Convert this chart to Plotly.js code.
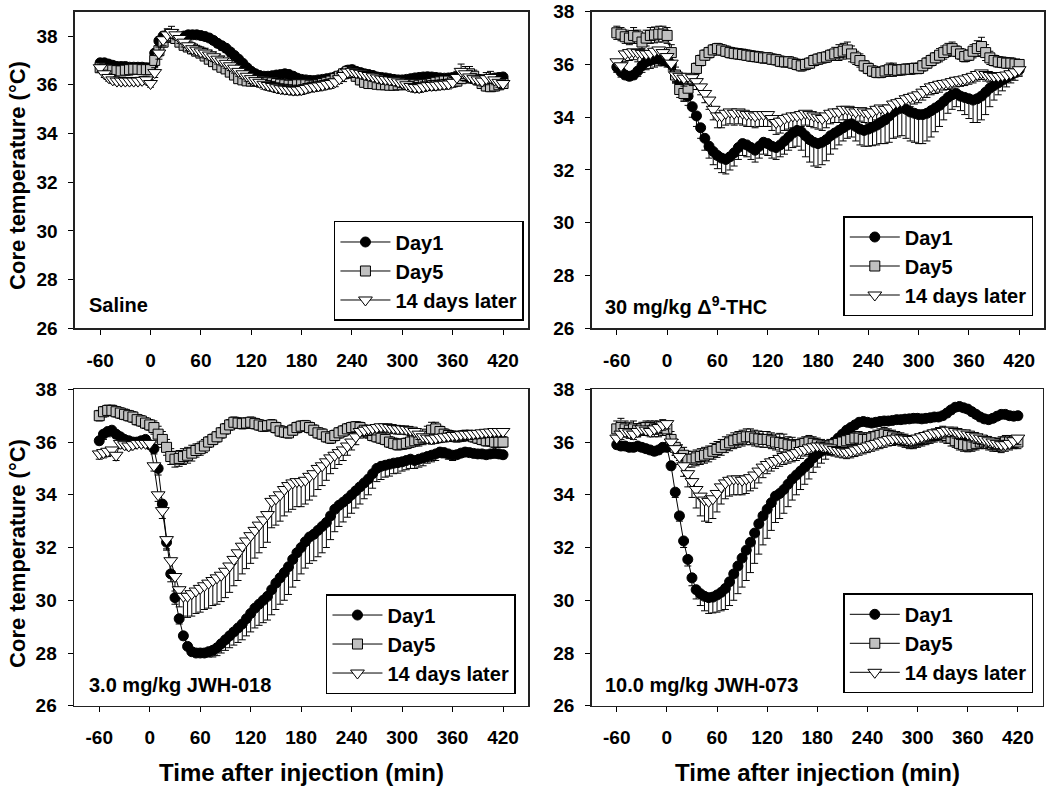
<!DOCTYPE html>
<html><head><meta charset="utf-8">
<script src="https://cdn.plot.ly/plotly-3.0.1.min.js"></script>
<style>html,body{margin:0;padding:0;background:#fff}#chart{width:1050px;height:791px}</style>
</head><body><div id="chart"></div>
<script>
const TIME = [-60,-55,-50,-45,-40,-35,-30,-25,-20,-15,-10,-5,0,
 5,10,15,20,25,30,35,40,45,50,55,60,
 65,70,75,80,85,90,95,100,105,110,115,120,
 125,130,135,140,145,150,155,160,165,170,175,180,
 185,190,195,200,205,210,215,220,225,230,235,240,
 245,250,255,260,265,270,275,280,285,290,295,300,
 305,310,315,320,325,330,335,340,345,350,355,360,
 365,370,375,380,385,390,395,400,405,410,415,420];

const X_TICK_VALUES = [-60,0,60,120,180,240,300,360,420];
const X_TICK_LABELS = ['-60','0','60','120','180','240','300','360','420'];
const Y_TICK_VALUES = [26,28,30,32,34,36,38];
const SERIES_NAMES = ['Day1','Day5','14 days later'];
const PANEL_LABELS = ['Saline','30 mg/kg \u0394<sup>9</sup>-THC','3.0 mg/kg JWH-018','10.0 mg/kg JWH-073'];
const X_TITLE = 'Time after injection (min)';
const Y_TITLE = 'Core temperature (\u00B0C)';

// ---------- Saline ----------
const SAL_D1 = [36.9,36.9,36.85,36.8,36.75,36.75,36.75,36.72,36.72,36.72,36.72,36.7,36.7,
 37.3,37.8,38.0,38.05,38.0,37.95,37.95,38.0,38.05,38.05,38.05,38.02,
 37.98,37.92,37.82,37.7,37.6,37.5,37.35,37.2,37.05,36.88,36.7,36.55,
 36.45,36.38,36.35,36.35,36.37,36.4,36.42,36.45,36.42,36.35,36.27,36.22,
 36.2,36.18,36.17,36.2,36.22,36.25,36.28,36.33,36.38,36.5,36.6,36.62,
 36.55,36.5,36.45,36.42,36.38,36.32,36.3,36.28,36.25,36.22,36.2,36.2,
 36.22,36.25,36.28,36.3,36.32,36.33,36.32,36.3,36.28,36.27,36.28,36.3,
 36.32,36.33,36.3,36.28,36.25,36.22,36.2,36.22,36.25,36.28,36.3,36.32];
const SAL_D1_E = [0.12,0.12,0.1,0.1,0.12,0.1,0.1,0.12,0.1,0.1,0.12,0.1,0.1,
 0.2,0.2,0.15,0.15,0.12,0.12,0.12,0.12,0.12,0.12,0.12,0.12,
 0.15,0.15,0.15,0.15,0.18,0.18,0.2,0.2,0.2,0.2,0.2,0.18,
 0.18,0.15,0.15,0.15,0.15,0.12,0.12,0.12,0.12,0.12,0.12,0.12,
 0.12,0.12,0.12,0.12,0.12,0.15,0.15,0.15,0.15,0.15,0.15,0.12,
 0.12,0.12,0.12,0.12,0.12,0.12,0.12,0.12,0.12,0.12,0.12,0.12,
 0.12,0.12,0.12,0.12,0.12,0.12,0.12,0.12,0.12,0.12,0.12,0.12,
 0.12,0.12,0.12,0.12,0.12,0.12,0.12,0.12,0.12,0.12,0.12,0.12];
const SAL_D5 = [36.7,36.65,36.62,36.6,36.58,36.57,36.6,36.62,36.64,36.64,36.62,36.62,36.62,
 37.0,37.4,37.75,37.95,38.0,37.9,37.75,37.62,37.55,37.47,37.38,37.3,
 37.18,37.05,36.95,36.82,36.72,36.65,36.52,36.4,36.25,36.2,36.16,36.15,
 36.15,36.15,36.12,36.1,36.08,36.05,36.02,36.0,35.98,35.98,36.0,36.0,
 36.0,35.98,35.98,36.0,36.05,36.1,36.15,36.25,36.35,36.45,36.55,36.5,
 36.35,36.2,36.1,36.05,36.05,36.02,36.0,36.0,35.98,35.98,36.0,36.0,
 36.02,36.02,36.0,35.98,36.0,36.02,36.05,36.1,36.12,36.15,36.15,36.12,
 36.15,36.25,36.38,36.45,36.35,36.2,36.05,35.95,35.92,35.95,36.0,36.05];
const SAL_D5_E = [0.2,0.2,0.18,0.2,0.2,0.18,0.2,0.22,0.2,0.2,0.2,0.2,0.2,
 0.25,0.25,0.2,0.2,0.15,0.15,0.15,0.15,0.15,0.15,0.15,0.15,
 0.15,0.15,0.15,0.15,0.15,0.15,0.15,0.15,0.15,0.15,0.15,0.15,
 0.15,0.15,0.15,0.15,0.15,0.15,0.15,0.15,0.15,0.15,0.15,0.15,
 0.15,0.15,0.15,0.15,0.15,0.15,0.15,0.15,0.2,0.2,0.2,0.2,
 0.2,0.2,0.15,0.15,0.15,0.15,0.15,0.15,0.15,0.15,0.15,0.15,
 0.15,0.15,0.15,0.15,0.15,0.15,0.15,0.15,0.15,0.15,0.15,0.15,
 0.2,0.2,0.25,0.3,0.25,0.2,0.2,0.2,0.2,0.2,0.2,0.2];
const SAL_14 = [36.7,36.45,36.3,36.2,36.15,36.15,36.15,36.15,36.15,36.15,36.18,36.2,36.05,
 36.5,37.3,37.85,38.05,38.15,38.05,37.9,37.75,37.6,37.48,37.42,37.35,
 37.3,37.22,37.15,37.05,36.98,36.88,36.78,36.68,36.55,36.45,36.35,36.25,
 36.17,36.1,36.02,35.97,35.93,35.88,35.84,35.82,35.8,35.78,35.78,35.8,
 35.85,35.9,35.92,35.95,35.98,36.02,36.05,36.12,36.25,36.38,36.52,36.55,
 36.5,36.47,36.42,36.38,36.33,36.28,36.24,36.22,36.2,36.17,36.12,36.08,
 36.0,35.93,35.89,35.88,35.92,35.96,35.97,35.98,36.0,36.02,36.03,36.1,
 36.3,36.55,36.45,36.32,36.25,36.2,36.15,36.25,36.3,36.2,36.1,36.05];
const SAL_14_E = [0.15,0.15,0.15,0.15,0.15,0.15,0.15,0.15,0.15,0.15,0.15,0.15,0.15,
 0.2,0.25,0.25,0.25,0.25,0.2,0.2,0.2,0.2,0.2,0.2,0.2,
 0.2,0.2,0.2,0.2,0.2,0.2,0.2,0.2,0.2,0.2,0.2,0.2,
 0.2,0.2,0.2,0.2,0.2,0.2,0.2,0.2,0.2,0.2,0.2,0.2,
 0.2,0.2,0.2,0.2,0.2,0.2,0.2,0.2,0.2,0.25,0.25,0.25,
 0.2,0.2,0.2,0.2,0.2,0.2,0.2,0.2,0.2,0.2,0.2,0.2,
 0.2,0.2,0.2,0.2,0.2,0.2,0.2,0.2,0.2,0.2,0.2,0.2,
 0.25,0.3,0.3,0.25,0.2,0.2,0.2,0.25,0.25,0.2,0.2,0.2];

// ---------- 30 mg/kg THC ----------
const THC_D1 = [35.9,35.72,35.6,35.55,35.6,35.75,35.95,36.1,36.15,36.2,36.2,36.15,36.1,
 36.0,35.6,35.3,35.0,34.8,34.4,34.05,33.6,33.2,32.9,32.7,32.55,
 32.45,32.4,32.5,32.65,32.85,33.0,32.95,32.85,32.75,32.9,33.05,33.0,
 32.9,32.85,32.95,33.1,33.25,33.4,33.5,33.45,33.3,33.15,33.05,33.0,
 33.05,33.15,33.3,33.4,33.5,33.6,33.7,33.75,33.65,33.55,33.5,33.55,
 33.62,33.7,33.8,33.9,34.05,34.2,34.3,34.35,34.3,34.2,34.15,34.1,
 34.1,34.15,34.25,34.35,34.45,34.6,34.75,34.85,34.9,34.8,34.75,34.7,
 34.65,34.7,34.8,34.95,35.1,35.2,35.3,35.4,35.5,35.6,35.7,35.8];
const THC_D1_E = [0.2,0.2,0.15,0.15,0.15,0.2,0.25,0.3,0.3,0.3,0.25,0.2,0.2,
 0.2,0.25,0.3,0.35,0.35,0.4,0.4,0.4,0.45,0.45,0.5,0.5,
 0.55,0.55,0.5,0.5,0.45,0.45,0.45,0.45,0.45,0.45,0.45,0.45,
 0.45,0.45,0.45,0.5,0.5,0.55,0.6,0.7,0.8,0.85,0.9,0.9,
 0.85,0.8,0.7,0.6,0.55,0.5,0.5,0.5,0.55,0.6,0.6,0.65,
 0.7,0.75,0.8,0.9,1.0,1.0,1.05,1.05,1.1,1.1,1.1,1.1,
 1.1,1.05,1.0,0.9,0.8,0.7,0.6,0.55,0.5,0.55,0.65,0.75,
 0.85,0.9,0.9,0.85,0.7,0.55,0.45,0.4,0.35,0.3,0.3,0.25];
const THC_D5 = [37.2,37.15,37.05,37.0,37.1,37.05,36.85,37.0,37.1,37.12,37.15,37.15,37.1,
 36.45,35.6,35.05,34.9,35.1,35.45,35.85,36.15,36.35,36.45,36.55,36.6,
 36.55,36.5,36.45,36.42,36.4,36.38,36.35,36.32,36.3,36.28,36.25,36.25,
 36.2,36.18,36.12,36.1,36.1,36.05,36.0,35.95,36.0,36.05,36.15,36.2,
 36.25,36.28,36.35,36.4,36.45,36.5,36.55,36.4,36.25,36.15,35.95,35.85,
 35.75,35.7,35.7,35.75,35.8,35.8,35.78,35.8,35.82,35.82,35.85,35.85,
 35.95,36.05,36.15,36.25,36.35,36.45,36.55,36.6,36.5,36.4,36.3,36.35,
 36.5,36.6,36.68,36.45,36.25,36.15,36.1,36.08,36.05,36.05,36.02,36.0];
const THC_D5_E = [0.25,0.25,0.25,0.25,0.3,0.25,0.25,0.3,0.3,0.3,0.3,0.3,0.3,
 0.3,0.3,0.3,0.3,0.25,0.2,0.2,0.2,0.2,0.2,0.2,0.2,
 0.2,0.2,0.2,0.2,0.2,0.2,0.2,0.2,0.2,0.2,0.2,0.2,
 0.2,0.2,0.2,0.2,0.2,0.2,0.2,0.2,0.2,0.2,0.2,0.2,
 0.2,0.2,0.2,0.25,0.3,0.3,0.3,0.3,0.25,0.25,0.2,0.2,
 0.2,0.2,0.2,0.2,0.25,0.25,0.2,0.2,0.2,0.2,0.2,0.2,
 0.2,0.2,0.2,0.2,0.25,0.25,0.25,0.25,0.2,0.2,0.2,0.2,
 0.25,0.3,0.35,0.3,0.25,0.2,0.2,0.2,0.2,0.2,0.15,0.15];
const THC_14 = [36.1,35.95,36.4,36.45,36.48,36.45,36.42,36.4,36.42,36.5,36.55,36.45,36.3,
 36.05,35.6,35.55,35.48,35.55,35.5,35.35,35.15,34.9,34.65,34.3,34.05,
 34.05,34.15,34.2,34.15,34.2,34.15,34.1,34.1,34.05,34.1,34.1,34.1,
 33.95,33.8,33.85,33.95,34.0,34.05,34.05,34.1,34.15,34.1,34.05,34.0,
 33.95,34.05,34.15,34.2,34.2,34.3,34.3,34.25,34.2,34.25,34.2,34.15,
 34.2,34.3,34.35,34.3,34.35,34.5,34.55,34.6,34.7,34.75,34.8,34.85,
 34.95,35.05,35.15,35.2,35.25,35.28,35.3,35.35,35.4,35.42,35.45,35.5,
 35.55,35.62,35.68,35.62,35.58,35.55,35.55,35.58,35.6,35.65,35.72,35.8];
const THC_14_E = [0.35,0.3,0.3,0.3,0.3,0.35,0.35,0.35,0.3,0.3,0.3,0.3,0.3,
 0.3,0.3,0.3,0.3,0.3,0.3,0.3,0.3,0.35,0.35,0.4,0.45,
 0.45,0.45,0.45,0.45,0.45,0.45,0.45,0.45,0.45,0.45,0.45,0.45,
 0.45,0.45,0.45,0.45,0.45,0.45,0.45,0.45,0.45,0.45,0.45,0.45,
 0.45,0.45,0.4,0.4,0.4,0.4,0.4,0.4,0.4,0.4,0.4,0.4,
 0.4,0.4,0.4,0.4,0.4,0.4,0.35,0.35,0.35,0.35,0.3,0.3,
 0.3,0.3,0.3,0.3,0.3,0.25,0.25,0.25,0.25,0.25,0.25,0.25,
 0.25,0.25,0.25,0.25,0.25,0.2,0.2,0.2,0.2,0.2,0.2,0.2];

// ---------- 3.0 mg/kg JWH-018 ----------
const J18_D1 = [36.05,36.3,36.4,36.45,36.3,36.2,36.1,36.05,36.0,36.0,36.05,36.1,35.9,
 35.75,35.0,33.65,32.2,31.0,30.1,29.3,28.65,28.25,28.05,28.0,28.0,
 28.0,28.05,28.1,28.2,28.35,28.5,28.65,28.8,28.95,29.1,29.3,29.5,
 29.7,29.85,30.0,30.15,30.4,30.65,30.85,31.05,31.27,31.55,31.8,32.0,
 32.22,32.4,32.5,32.65,32.8,32.95,33.2,33.45,33.6,33.72,33.85,34.0,
 34.15,34.3,34.45,34.6,34.8,35.0,35.08,35.12,35.16,35.2,35.22,35.25,
 35.3,35.35,35.3,35.35,35.4,35.45,35.5,35.55,35.62,35.6,35.55,35.5,
 35.52,35.58,35.62,35.6,35.57,35.55,35.55,35.52,35.55,35.57,35.55,35.52];
const J18_D1_E = [0.15,0.2,0.2,0.2,0.15,0.15,0.15,0.15,0.15,0.15,0.15,0.15,0.15,
 0.2,0.25,0.3,0.3,0.3,0.25,0.2,0.15,0.1,0.1,0.1,0.1,
 0.15,0.2,0.25,0.3,0.35,0.4,0.45,0.5,0.55,0.6,0.65,0.7,
 0.75,0.8,0.85,0.9,0.95,1.0,1.0,1.05,1.05,1.05,1.05,1.0,
 1.0,1.0,1.0,1.0,1.0,0.95,0.9,0.85,0.8,0.75,0.7,0.7,
 0.65,0.65,0.6,0.6,0.55,0.5,0.5,0.45,0.45,0.4,0.4,0.35,
 0.35,0.35,0.3,0.3,0.3,0.25,0.25,0.25,0.2,0.2,0.2,0.2,
 0.15,0.15,0.15,0.15,0.15,0.15,0.15,0.15,0.15,0.15,0.15,0.15];
const J18_D5 = [37.0,37.15,37.2,37.2,37.15,37.1,37.05,37.0,36.95,36.85,36.8,36.72,36.65,
 36.55,36.3,36.1,35.8,35.45,35.35,35.38,35.45,35.5,35.58,35.68,35.75,
 35.85,36.0,36.1,36.2,36.35,36.5,36.65,36.75,36.72,36.7,36.72,36.75,
 36.7,36.65,36.6,36.62,36.65,36.55,36.42,36.38,36.35,36.45,36.55,36.6,
 36.62,36.55,36.45,36.35,36.3,36.2,36.15,36.25,36.35,36.42,36.5,36.55,
 36.58,36.55,36.45,36.35,36.25,36.2,36.15,36.1,36.0,35.95,35.9,35.92,
 35.95,36.0,36.05,36.1,36.15,36.3,36.45,36.5,36.4,36.3,36.25,36.22,
 36.2,36.22,36.25,36.25,36.2,36.15,36.1,36.05,36.05,36.0,36.0,36.0];
const J18_D5_E = [0.2,0.2,0.2,0.2,0.2,0.2,0.2,0.2,0.2,0.2,0.2,0.2,0.2,
 0.25,0.3,0.3,0.3,0.3,0.3,0.3,0.3,0.3,0.3,0.25,0.25,
 0.25,0.2,0.2,0.2,0.2,0.2,0.2,0.2,0.2,0.2,0.2,0.2,
 0.2,0.2,0.2,0.2,0.2,0.2,0.2,0.2,0.2,0.2,0.2,0.2,
 0.2,0.2,0.2,0.2,0.2,0.2,0.2,0.2,0.2,0.2,0.2,0.2,
 0.2,0.2,0.2,0.2,0.2,0.2,0.2,0.2,0.2,0.2,0.2,0.2,
 0.2,0.2,0.2,0.25,0.25,0.3,0.3,0.25,0.2,0.2,0.2,0.2,
 0.2,0.2,0.2,0.2,0.2,0.2,0.2,0.2,0.2,0.2,0.2,0.2];
const J18_14 = [35.55,35.6,35.65,35.7,35.5,35.95,35.9,35.85,35.9,35.95,35.95,35.95,35.95,
 35.1,34.0,33.4,32.3,31.5,30.9,30.4,30.15,30.15,30.25,30.35,30.45,
 30.55,30.65,30.75,30.85,30.95,31.1,31.3,31.55,31.8,32.05,32.25,32.45,
 32.65,32.85,33.05,33.25,33.75,33.85,34.0,34.2,34.35,34.45,34.5,34.5,
 34.55,34.7,34.8,35.0,35.1,35.25,35.4,35.5,35.6,35.7,35.85,36.0,
 36.2,36.4,36.45,36.5,36.52,36.55,36.58,36.58,36.55,36.52,36.5,36.5,
 36.48,36.45,36.4,36.3,36.2,36.15,36.12,36.15,36.18,36.2,36.22,36.25,
 36.25,36.28,36.3,36.3,36.32,36.33,36.35,36.37,36.38,36.4,36.4,36.4];
const J18_14_E = [0.2,0.2,0.2,0.2,0.2,0.15,0.15,0.15,0.15,0.15,0.15,0.15,0.15,
 0.2,0.25,0.3,0.35,0.45,0.55,0.65,0.75,0.8,0.85,0.85,0.9,
 0.9,0.95,0.95,1.0,1.0,1.0,1.0,1.0,1.05,1.05,1.05,1.05,
 1.05,1.05,1.05,1.05,1.0,1.0,1.0,1.0,1.0,1.0,0.95,0.95,
 0.9,0.9,0.85,0.8,0.75,0.7,0.6,0.5,0.45,0.4,0.35,0.3,
 0.3,0.25,0.25,0.25,0.25,0.2,0.2,0.2,0.2,0.2,0.2,0.2,
 0.2,0.2,0.2,0.2,0.2,0.2,0.2,0.2,0.2,0.2,0.2,0.2,
 0.2,0.2,0.2,0.2,0.2,0.2,0.2,0.2,0.2,0.2,0.2,0.2];

// ---------- 10.0 mg/kg JWH-073 ----------
const J73_D1 = [35.9,35.85,35.85,35.8,35.8,35.85,35.8,35.75,35.7,35.65,35.7,35.8,35.8,
 35.1,34.1,33.2,32.25,31.55,30.85,30.4,30.25,30.15,30.1,30.12,30.2,
 30.3,30.45,30.7,31.0,31.3,31.6,31.9,32.2,32.55,32.9,33.2,33.45,
 33.7,33.95,34.05,34.2,34.4,34.6,34.75,34.9,35.05,35.2,35.4,35.55,
 35.65,35.75,35.85,36.0,36.15,36.3,36.45,36.55,36.65,36.75,36.78,36.75,
 36.72,36.75,36.78,36.8,36.8,36.82,36.85,36.85,36.87,36.88,36.9,36.9,
 36.88,36.9,36.92,36.95,36.95,37.0,37.1,37.22,37.32,37.35,37.3,37.25,
 37.15,37.05,36.95,36.88,36.85,36.9,36.98,37.05,37.05,37.0,36.98,37.0];
const J73_D1_E = [0.15,0.15,0.15,0.15,0.15,0.15,0.15,0.15,0.15,0.15,0.15,0.15,0.15,
 0.15,0.2,0.2,0.25,0.25,0.3,0.35,0.45,0.55,0.6,0.6,0.65,
 0.7,0.8,0.9,1.0,1.05,1.1,1.15,1.15,1.15,1.15,1.1,1.1,
 1.05,1.0,0.95,0.9,0.85,0.8,0.75,0.7,0.65,0.6,0.55,0.5,
 0.45,0.4,0.35,0.3,0.25,0.2,0.2,0.15,0.15,0.15,0.15,0.15,
 0.15,0.15,0.15,0.15,0.15,0.15,0.15,0.15,0.15,0.15,0.15,0.15,
 0.15,0.15,0.15,0.15,0.15,0.15,0.15,0.15,0.15,0.15,0.15,0.15,
 0.15,0.15,0.15,0.15,0.15,0.15,0.15,0.15,0.15,0.15,0.15,0.15];
const J73_D5 = [36.5,36.55,36.5,36.45,36.5,36.45,36.5,36.55,36.55,36.5,36.5,36.55,36.5,
 36.1,35.8,35.6,35.5,35.35,35.35,35.4,35.45,35.5,35.55,35.65,35.72,
 35.8,35.9,35.97,36.05,36.1,36.15,36.2,36.2,36.15,36.12,36.1,36.1,
 36.05,36.0,35.98,35.95,35.9,35.88,35.85,35.9,35.95,36.0,35.95,35.9,
 35.85,35.8,35.85,35.9,35.95,36.0,36.05,36.1,36.15,36.15,36.1,36.1,
 36.15,36.2,36.25,36.3,36.25,36.2,36.15,36.1,36.05,36.0,36.0,36.05,
 36.1,36.15,36.2,36.25,36.3,36.3,36.25,36.15,36.05,35.95,35.9,35.88,
 35.9,35.95,36.0,36.0,35.95,35.9,35.9,35.95,36.0,36.0,36.0,36.0];
const J73_D5_E = [0.3,0.35,0.3,0.3,0.3,0.25,0.25,0.25,0.25,0.3,0.3,0.3,0.25,
 0.3,0.3,0.3,0.3,0.3,0.3,0.3,0.3,0.3,0.3,0.3,0.3,
 0.3,0.3,0.3,0.3,0.3,0.3,0.3,0.3,0.3,0.3,0.3,0.3,
 0.3,0.3,0.35,0.35,0.3,0.3,0.25,0.25,0.25,0.25,0.25,0.25,
 0.25,0.25,0.25,0.25,0.25,0.25,0.25,0.25,0.25,0.25,0.25,0.25,
 0.25,0.25,0.25,0.25,0.25,0.25,0.25,0.25,0.25,0.25,0.25,0.25,
 0.25,0.25,0.25,0.25,0.25,0.3,0.3,0.3,0.25,0.25,0.25,0.25,
 0.25,0.25,0.25,0.25,0.25,0.25,0.25,0.25,0.25,0.25,0.25,0.25];
const J73_14 = [36.15,36.3,36.4,36.35,36.3,36.4,36.5,36.45,36.4,36.5,36.55,36.65,36.7,
 36.0,35.75,35.45,35.1,34.8,34.5,34.2,33.95,33.8,33.75,33.85,34.05,
 34.3,34.45,34.55,34.6,34.6,34.55,34.6,34.65,34.75,34.9,35.05,35.15,
 35.25,35.3,35.38,35.45,35.5,35.55,35.6,35.68,35.72,35.78,35.82,35.85,
 35.85,35.82,35.78,35.72,35.68,35.65,35.62,35.65,35.7,35.75,35.8,35.85,
 35.9,35.95,36.0,36.05,36.1,36.12,36.15,36.15,36.12,36.1,36.1,36.15,
 36.2,36.25,36.3,36.35,36.35,36.4,36.45,36.45,36.4,36.35,36.35,36.3,
 36.25,36.2,36.15,36.1,36.05,36.0,35.95,35.9,35.9,35.95,36.05,36.15];
const J73_14_E = [0.2,0.2,0.2,0.2,0.2,0.2,0.2,0.2,0.2,0.2,0.2,0.2,0.2,
 0.2,0.25,0.3,0.4,0.5,0.6,0.7,0.75,0.8,0.8,0.75,0.7,
 0.65,0.6,0.6,0.6,0.6,0.55,0.55,0.5,0.5,0.45,0.4,0.35,
 0.35,0.3,0.3,0.3,0.3,0.3,0.3,0.3,0.25,0.25,0.25,0.25,
 0.25,0.25,0.25,0.25,0.25,0.25,0.25,0.25,0.25,0.25,0.25,0.25,
 0.25,0.25,0.25,0.25,0.25,0.25,0.25,0.25,0.25,0.25,0.25,0.25,
 0.25,0.25,0.25,0.25,0.25,0.25,0.25,0.25,0.25,0.25,0.25,0.25,
 0.25,0.25,0.25,0.25,0.25,0.25,0.3,0.3,0.25,0.25,0.25,0.25];

// ---------- assembly ----------
const FONT = 'Liberation Sans, Arial, Helvetica, sans-serif';
const PANELS = [
  {means:[SAL_D1,SAL_D5,SAL_14], errs:[SAL_D1_E,SAL_D5_E,SAL_14_E], dirs:['down','both','both'],
   xd:[0.0714,0.5031], yd:[0.5850,0.9852], yr:[26,39], leg:[0.4990,0.5942], lab:[0.0826,0.6144]},
  {means:[THC_D1,THC_D5,THC_14], errs:[THC_D1_E,THC_D5_E,THC_14_E], dirs:['down','both','down'],
   xd:[0.5635,0.9946], yd:[0.5850,0.9852], yr:[26,38], leg:[0.9841,0.6005], lab:[0.5743,0.6144]},
  {means:[J18_D1,J18_D5,J18_14], errs:[J18_D1_E,J18_D5_E,J18_14_E], dirs:['down','both','down'],
   xd:[0.0705,0.5031], yd:[0.1078,0.5078], yr:[26,38], leg:[0.4914,0.1226], lab:[0.0826,0.1340]},
  {means:[J73_D1,J73_D5,J73_14], errs:[J73_D1_E,J73_D5_E,J73_14_E], dirs:['down','both','down'],
   xd:[0.5635,0.9933], yd:[0.1078,0.5078], yr:[26,38], leg:[0.9841,0.1235], lab:[0.5743,0.1340]}
];
const STYLES = [
  {symbol:'circle', size:10, color:'#000000'},
  {symbol:'square', size:10, color:'#c0c0c0'},
  {symbol:'triangle-down', size:12, color:'#ffffff'}
];

const traces = [];
const layout = {
  width:1050, height:791, autosize:false,
  margin:{l:0,r:0,t:0,b:0}, paper_bgcolor:'#fff', plot_bgcolor:'#fff',
  font:{family:FONT, color:'#000'},
  annotations:[]
};

PANELS.forEach((p, i) => {
  const n = i === 0 ? '' : String(i+1);
  const legName = 'legend' + n;
  p.means.forEach((m, s) => {
    if (m.length !== TIME.length || p.errs[s].length !== TIME.length) {
      throw new Error('length mismatch panel ' + i + ' series ' + s + ': ' + m.length + '/' + p.errs[s].length);
    }
    const e = p.errs[s];
    const zeros = e.map(() => 0);
    let err;
    if (p.dirs[s] === 'both') err = {type:'data', symmetric:true, array:e};
    else if (p.dirs[s] === 'down') err = {type:'data', symmetric:false, array:zeros, arrayminus:e};
    else err = {type:'data', symmetric:false, array:e, arrayminus:zeros};
    Object.assign(err, {color:'#000', thickness:1, width:3.5, visible:true});
    traces.push({
      type:'scatter', mode:'lines+markers', x:TIME, y:m, name:SERIES_NAMES[s],
      xaxis:'x'+n, yaxis:'y'+n, legend:legName,
      line:{color:'#000', width:1},
      marker:{symbol:STYLES[s].symbol, size:STYLES[s].size, color:STYLES[s].color, line:{color:'#000', width:1}},
      error_y:err, hoverinfo:'x+y'
    });
  });
  layout['xaxis'+n] = {
    domain:p.xd, anchor:'y'+n, range:[-90,450], tickmode:'array',
    tickvals:X_TICK_VALUES, ticktext:X_TICK_LABELS,
    ticks:'outside', ticklen:5, tickwidth:1, tickcolor:'#000',
    showline:true, linecolor:'#222', linewidth:1.5, mirror:true,
    showgrid:false, zeroline:false, ticklabelstandoff:9,
    tickfont:{family:FONT, size:19, color:'#000', weight:'bold'}
  };
  layout['yaxis'+n] = {
    domain:p.yd, anchor:'x'+n, range:p.yr, tickmode:'array', tickvals:Y_TICK_VALUES,
    ticks:'outside', ticklen:5, tickwidth:1, tickcolor:'#000',
    showline:true, linecolor:'#222', linewidth:1.5, mirror:true,
    showgrid:false, zeroline:false, ticklabelstandoff:7,
    tickfont:{family:FONT, size:19, color:'#000', weight:'bold'}
  };
  layout[legName] = {
    x:p.leg[0], y:p.leg[1], xanchor:'right', yanchor:'bottom',
    bgcolor:'#fff', bordercolor:'#000', borderwidth:1.5,
    font:{family:FONT, size:20, color:'#000', weight:'bold'},
    tracegroupgap:0, itemwidth:50
  };
  layout.annotations.push({
    xref:'paper', yref:'paper', x:p.lab[0], y:p.lab[1], xanchor:'left', yanchor:'middle',
    text:'<b>' + PANEL_LABELS[i] + '</b>', showarrow:false,
    font:{family:FONT, size:20, color:'#000'}
  });
});

// axis titles
[0.7788, 0.3009].forEach(y => layout.annotations.push({
  xref:'paper', yref:'paper', x:0.0171, y:y, xanchor:'center', yanchor:'middle', textangle:-90,
  text:'<b>' + Y_TITLE + '</b>', showarrow:false, font:{family:FONT, size:22, color:'#000'}
}));
[0.2867, 0.7781].forEach(x => layout.annotations.push({
  xref:'paper', yref:'paper', x:x, y:0.0240, xanchor:'center', yanchor:'middle',
  text:'<b>' + X_TITLE + '</b>', showarrow:false, font:{family:FONT, size:24, color:'#000'}
}));

Plotly.newPlot('chart', traces, layout, {displayModeBar:false, staticPlot:true});
</script>
</body></html>
